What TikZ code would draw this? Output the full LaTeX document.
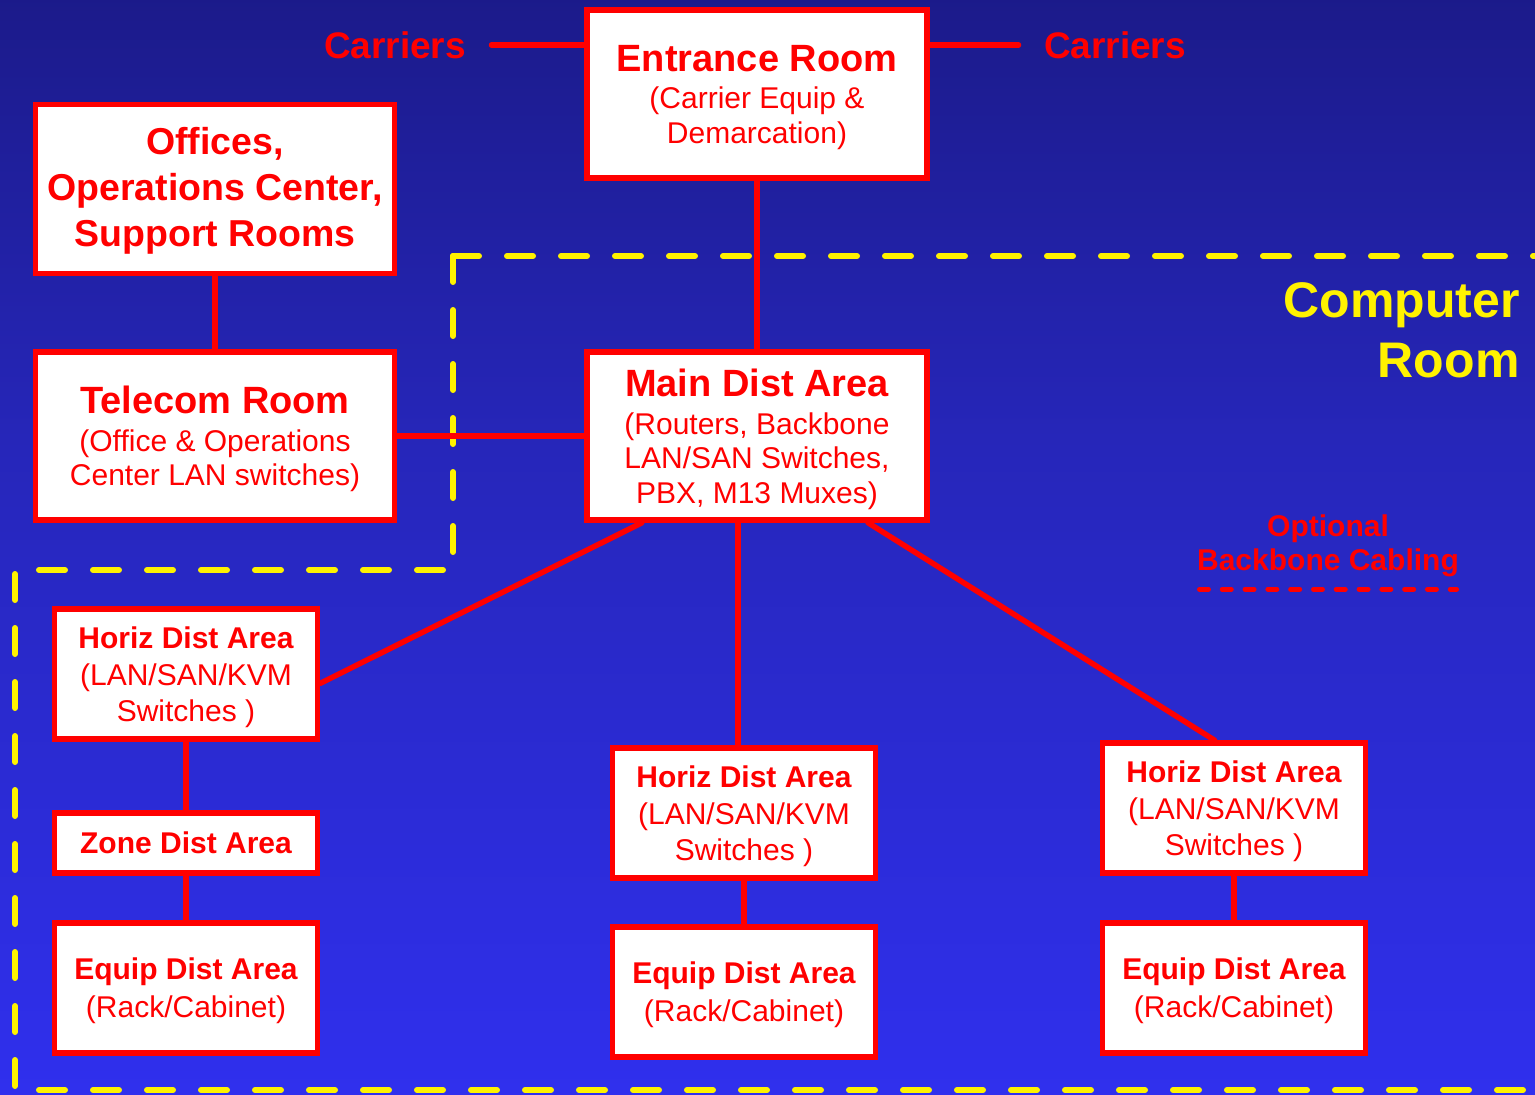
\documentclass[tikz,border=0pt]{standalone}
\usepackage{fontspec}
\setmainfont{Liberation Sans}
\usepackage{tikz}
\usetikzlibrary{calc}

\definecolor{bgtop}{RGB}{14,12,80}
\definecolor{bgmid}{RGB}{38,38,185}
\definecolor{bgbot}{RGB}{51,51,255}
\pgfdeclareverticalshading{slide}{100bp}{color(0bp)=(bgbot); color(15bp)=(bgbot); color(55bp)=(bgmid); color(100bp)=(bgtop)}

\newcommand{\bigttl}[1]{{\bfseries\fontsize{38}{44}\selectfont #1}}
\newcommand{\smttl}[1]{{\bfseries\fontsize{30}{36}\selectfont #1}}

\begin{document}
\begin{tikzpicture}[x = 1pt, y = -1pt,
  room/.style = {draw = red, line width = 5.5pt, fill = white, text = red, align = center, inner sep = 0pt},
  bigroom/.style = {room, minimum width = 340pt, minimum height = 168pt, text depth = 0pt, font = \fontsize{30}{34.5}\selectfont},
  smroom/.style = {room, minimum width = 263pt, minimum height = 130pt, text depth = 0pt, font = \fontsize{30}{36}\selectfont},
  cable/.style = {red, line width = 5.5pt, line cap = round},
  crm/.style = {yellow, line width = 6pt, line cap = round, dash pattern = on 26pt off 28pt}]
\useasboundingbox (0,0) rectangle (1535,1095);
\shade[shading = slide] (0,0) rectangle (1535,1095);

% computer room boundary
\draw[crm] (453,256)--(1545,256);
\draw[crm] (453,256)--(453,570)--(15,570)--(15,1090)--(1545,1090);
\node[yellow, align = right, anchor = east, font = \bfseries\fontsize{50}{60}\selectfont] (crmlbl) at (1523,330) {Computer\\Room};

% rooms
\node[bigroom] (entr) at (757,94) {\bigttl{Entrance Room}\\[3pt](Carrier Equip \&\\Demarcation)};
\node[room, minimum width = 359pt, minimum height = 169pt, text depth = 4pt, font = \bfseries\fontsize{37.5}{46}\selectfont] (office) at (215,189) {Offices,\\Operations Center,\\Support Rooms};
\node[bigroom, minimum width = 359pt] (tele) at (215,436) {\bigttl{Telecom Room}\\[3pt](Office \& Operations\\Center LAN switches)};
\node[bigroom] (main) at (757,436) {\bigttl{Main Dist Area}\\[3pt](Routers, Backbone\\LAN/SAN Switches,\\PBX, M13 Muxes)};

\node[red, font = \bfseries\fontsize{37}{44}\selectfont] (carL) at (395,45) {Carriers};
\node[red, font = \bfseries\fontsize{37}{44}\selectfont] (carR) at (1115,45) {Carriers};

\node[smroom] (hdaL) at (186,674) {\smttl{Horiz Dist Area}\\[1pt](LAN/SAN/KVM\\Switches )};
\node[room, minimum width = 263pt, minimum height = 60pt] (zone) at (186,843) {\smttl{Zone Dist Area}};
\node[smroom] (edaL) at (186,988) {\smttl{Equip Dist Area}\\[2pt](Rack/Cabinet)};
\node[smroom] (hdaM) at (744,813) {\smttl{Horiz Dist Area}\\[1pt](LAN/SAN/KVM\\Switches )};
\node[smroom] (edaM) at (744,992) {\smttl{Equip Dist Area}\\[2pt](Rack/Cabinet)};
\node[smroom] (hdaR) at (1234,808) {\smttl{Horiz Dist Area}\\[1pt](LAN/SAN/KVM\\Switches )};
\node[smroom] (edaR) at (1234,988) {\smttl{Equip Dist Area}\\[2pt](Rack/Cabinet)};

% legend
\node[red, inner sep = 0pt, font = \bfseries\fontsize{30}{34}\selectfont, align = center] (opt) at (1328,546) {Optional\\Backbone Cabling};
\draw[cable, line width = 5pt, dash pattern = on 9pt off 13.8pt] ([xshift = 2.5pt, yshift = -12pt]opt.south west)--([xshift = -2.5pt, yshift = -12pt]opt.south east);

% cabling
\draw[cable, shorten <= 22pt] (carL.east)--(carL.east -| entr.west);
\draw[cable, shorten >= 22pt] (carR.west -| entr.east)--(carR.west);
\draw[cable] (entr)--(main);
\draw[cable] (office)--(tele);
\draw[cable] (tele)--(main);
\draw[cable] (main.217)--(hdaL.-4);
\draw[cable] ([xshift = -19pt]main.south)--([xshift = -6pt]hdaM.north);
\draw[cable] (main.-38)--(hdaR.106);
\draw[cable] (hdaL)--(zone);
\draw[cable] (zone)--(edaL);
\draw[cable] (hdaM)--(edaM);
\draw[cable] (hdaR)--(edaR);
\end{tikzpicture}
\end{document}
